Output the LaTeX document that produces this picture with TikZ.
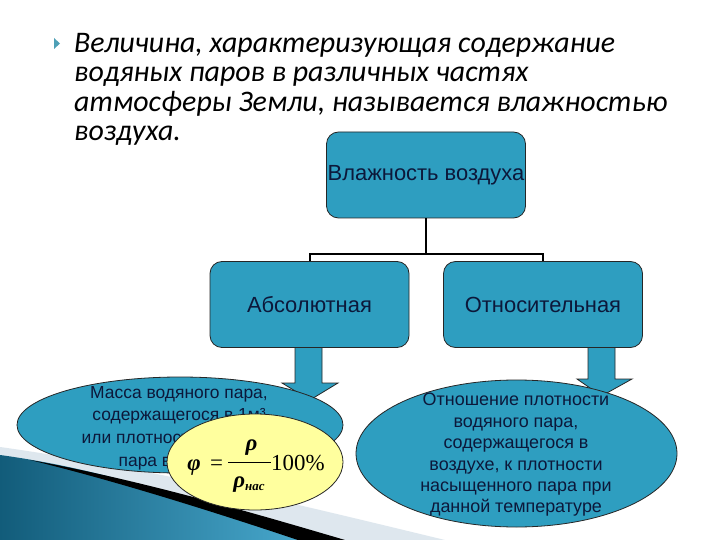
\documentclass[tikz,border=0pt]{standalone}
\usepackage{fontspec}
\setmainfont{Liberation Sans}
\newfontfamily\titlefont{Carlito}
\newfontfamily\formfont{Liberation Serif}
\usetikzlibrary{shapes.geometric}
\definecolor{boxblue}{RGB}{46,158,192}
\definecolor{navytext}{RGB}{12,24,58}
\definecolor{ovalyellow}{RGB}{255,255,158}
\definecolor{swgrey}{RGB}{222,231,238}
\definecolor{swdark}{RGB}{18,92,122}
\definecolor{swlight}{RGB}{72,168,205}
\definecolor{bulletc}{RGB}{78,160,182}
\tikzset{
  box/.style={draw=black!85, line width=0.8pt, fill=boxblue, rounded corners=12bp,
    minimum width=199bp, minimum height=86bp, inner sep=0pt,
    font=\fontsize{22}{26}\selectfont, text=navytext},
  oval/.style={ellipse, draw=black!85, line width=0.8pt, fill=boxblue, inner sep=0pt},
  ovaltext/.style={align=center, text=navytext, inner sep=0pt},
  conn/.style={draw=black, line width=2pt},
  blockarrow/.style={draw=black!85, line width=0.8pt, fill=boxblue, line join=miter},
  formula/.style={inner sep=0pt, font=\formfont\fontsize{23}{23}\selectfont},
}
\begin{document}
\begin{tikzpicture}[x=1bp, y=-1bp]
\useasboundingbox (0,0) rectangle (720,540);
\fill[white] (0,0) rectangle (720,540);
% background swoosh
\fill[swgrey] (0,447) .. controls (150,468) and (300,505) .. (445,540) -- (0,540) -- cycle;
\shade[left color=swdark, right color=swlight] (0,455) .. controls (110,470) and (210,505) .. (305,540) -- (0,540) -- cycle;
\fill[black] (30,460) .. controls (140,480) and (250,512) .. (345,540) -- (298,540) .. controls (220,514) and (120,482) .. (30,460) -- cycle;
% bullet
\fill[bulletc] (54,38) -- (60,43.5) -- (54,49) -- cycle;
% title
\node[anchor=base west, inner sep=0pt, align=left, font=\titlefont\itshape\fontsize{30}{29.7}\selectfont] (title) at (74,141)
  {Величина, характеризующая содержание\\водяных паров в различных частях\\атмосферы Земли, называется влажностью\\воздуха.};
% block arrows
\draw[blockarrow] (295,340) -- (295,383) -- (282,383) -- (310,400) -- (338,383) -- (322,383) -- (322,340) -- cycle;
\draw[blockarrow] (588,340) -- (588,379) -- (577,379) -- (601.5,396) -- (632,379) -- (615,379) -- (615,340) -- cycle;
% boxes
\node[box] (top) at (426,175) {\raisebox{-2bp}{Влажность воздуха}};
\node[box] (abs) at (309.5,304.5) {\raisebox{-1.5bp}{Абсолютная}};
\node[box] (rel) at (543,304.5) {\raisebox{-1.5bp}{Относительная}};
\draw[conn] (top.south) -- ++(0,35.5) coordinate (j);
\draw[conn] (abs.north) |- (j) -| (rel.north);
% ellipses
\node[oval, minimum width=326bp, minimum height=96bp] (mass) at (180,425) {};
\node[ovaltext, font=\fontsize{17.5}{22.7}\selectfont] (masstext) at (179,428)
  {Масса водяного пара,\\содержащегося в 1м³\\или плотность водяного\\пара в воздухе};
\node[oval, minimum width=321bp, minimum height=147bp] (ratio) at (516.5,453.5) {};
\node[ovaltext, font=\fontsize{18}{21.5}\selectfont] (ratiotext) at (516,455)
  {Отношение плотности\\водяного пара,\\содержащегося в\\воздухе, к плотности\\насыщенного пара при\\данной температуре};
% formula ellipse
\node[oval, fill=ovalyellow, minimum width=176bp, minimum height=96bp] (form) at (255,462) {};
\node[formula, anchor=base] (phi) at (194,470) {\bfseries\itshape φ};
\node[formula, anchor=base] (eq) at (216.5,470) {=};
\coordinate (barL) at (228,462);
\coordinate (barR) at (271,462);
\draw[line width=0.7pt] (barL) -- (barR);
\node[formula, anchor=base] (num) at (251.5,450) {\bfseries\itshape ρ};
\node[formula, anchor=base] (den) at (249,487) {\bfseries\itshape ρ\raisebox{-3bp}{\fontsize{13}{13}\selectfont нас}};
\node[formula, anchor=base west] (pct) at (271,470) {100\%};
\end{tikzpicture}
\end{document}
